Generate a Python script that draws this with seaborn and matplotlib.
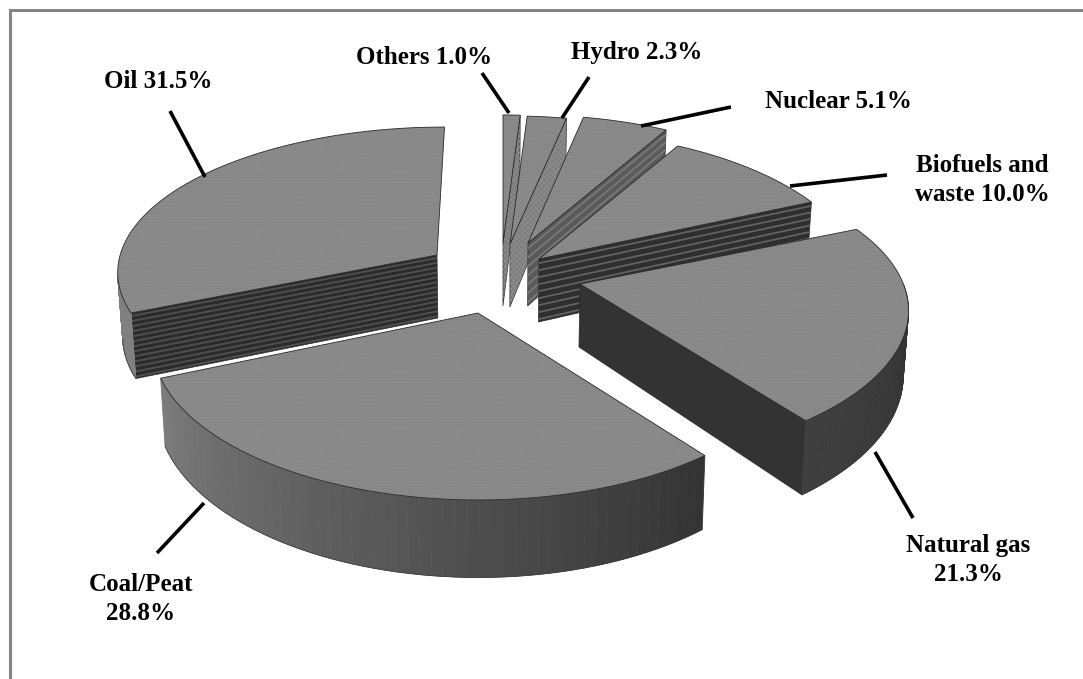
import numpy as np
import matplotlib
matplotlib.use("Agg")
import matplotlib.pyplot as plt
from matplotlib.patches import Polygon
import seaborn as sns

# Shares of primary energy supply, clockwise from twelve o'clock
fuels = ["Others", "Hydro", "Nuclear", "Biofuels and waste", "Natural gas", "Coal/Peat", "Oil"]
shares = [1.0, 2.3, 5.1, 10.0, 21.3, 28.8, 31.5]
label_breaks = ["Others {}%", "Hydro {}%", "Nuclear {}%", "Biofuels and\nwaste {}%",
                "Natural gas\n{}%", "Coal/Peat\n{}%", "Oil {}%"]

# Where each exploded wedge has its tip on the canvas, plus small per-wedge corrections
tips = [(503, 243), (510, 244), (528, 243), (539, 259), (580, 284), (478, 313), (437, 255)]
x_scale = [1.0, 1.0, 0.98, 0.985, 0.995, 0.985, 0.975]
y_scale = [1.0, 1.0, 1.0, 1.0, 0.96, 1.0, 0.924]
skew = [0.0, 0.0, 0.0, 0.0, 3.0, 0.0, 7.0]
persp = [0.187, 0.187, 0.187, 0.187, 0.187, 0.187, 0.0975]
label_xy = [(424, 57), (637, 53), (838, 101), (982, 180), (968, 560), (141, 599), (158, 82)]
leaders = [((482, 73), (509, 113)), ((589, 77), (562, 118)), ((731, 107), (641, 126)),
           ((887, 175), (790, 186)), ((913, 518), (875, 452)), ((157, 553), (204, 503)),
           ((170, 111), (205, 177))]

# Face styling: stripes on the cut side and greys running along the rim
top_grey = "#8b8b8b"
side_base = ["#7c7c7c", "#7f7f7f", "#5a5a5a", "#2e2e2e", "#333333", "#3a3a3a", "#2b2b2b"]
side_stripe = [None, None, "#787878", "#626262", None, None, "#505050"]
side_hatch = ["xxxxxx", "xxxxxx", None, None, None, None, None]
rim_near = ["#7a7a7a", "#7a7a7a", "#6a6a6a", "#5a5a5a", "#3f3f3f", "#7c7c7c", "#808080"]
rim_far = ["#7a7a7a", "#7a7a7a", "#6a6a6a", "#5a5a5a", "#2f2f2f", "#343434", "#808080"]
stripe_count = [0, 0, 7, 9, 0, 0, 13]

WIDTH = 325.0      # horizontal radius on the canvas
DEPTH = 152.0      # vertical radius on the canvas
HEIGHT = 63.0      # thickness of the disc
AXIS_X = 500.0     # verticals lean slightly towards this column
LEAN = 0.987

sns.set_theme(style="white")
plt.rcParams["font.family"] = ["Liberation Serif", "DejaVu Serif"]
plt.rcParams["hatch.linewidth"] = 0.35

fig, ax = plt.subplots(figsize=(10.83, 6.79), dpi=100)
ax.set_position([0, 0, 1, 1])
ax.set_xlim(0, 1083)
ax.set_ylim(679, 0)
ax.axis("off")

# Greys for the hatching come from a seaborn ramp
grain = sns.color_palette("Greys", 9)


def project(k, theta, radius=1.0, lower=False):
    """Map a polar point on wedge k (clockwise from north) to the canvas."""
    x = radius * np.sin(theta)
    y = radius * np.cos(theta)
    den = 1 + persp[k] * y
    px = tips[k][0] + (WIDTH * x_scale[k] * x + skew[k] * y * 1.18) / den
    py = tips[k][1] - DEPTH * y_scale[k] * y / den
    if lower:
        py += HEIGHT / den
        px = AXIS_X + (px - AXIS_X) * LEAN
    return px, py


def outline(k, a, b, lower=False, n=60):
    th = np.linspace(a, b, n)
    return np.array([project(k, t, 1.0, lower) for t in th])


def cut_face(k, theta, order):
    p0, p1 = project(k, theta), project(k, 0, 0)
    q0, q1 = project(k, theta, 1.0, True), project(k, 0, 0, True)
    quad = [p1, p0, q0, q1]
    ax.add_patch(Polygon(quad, closed=True, fc=side_base[k], ec="#2a2a2a", lw=0.5, zorder=order))
    if side_hatch[k]:
        ax.add_patch(Polygon(quad, closed=True, fc="none", ec=grain[4], hatch=side_hatch[k],
                             lw=0, zorder=order + 0.005))
    count = stripe_count[k]
    for f in (np.arange(count) + 0.6) / max(count, 1):
        a = np.array(p0) + f * (np.array(q0) - np.array(p0))
        b = np.array(p1) + f * (np.array(q1) - np.array(p1))
        ax.plot([a[0], b[0]], [a[1], b[1]], color=side_stripe[k], lw=1.3, zorder=order + 0.01,
                solid_capstyle="butt")


edges = np.radians(np.cumsum([0.0] + shares) * 3.6)

for i, fuel in enumerate(fuels):
    a, b = edges[i], edges[i + 1]
    z = 2 + i * 1.0

    # Only the cut side turned towards the viewer gets painted
    if np.sin(b) > 0:
        cut_face(i, b, z)
    if np.sin(a) < 0:
        cut_face(i, a, z)

    # Rim on the near half of the disc, in short quads so its grey drifts along the arc
    lo, hi = max(a, np.pi / 2), min(b, np.radians(262))
    if hi > lo:
        upper_rim = outline(i, lo, hi)
        lower_rim = outline(i, lo, hi, True)
        near = np.array(matplotlib.colors.to_rgb(rim_near[i]))
        far = np.array(matplotlib.colors.to_rgb(rim_far[i]))
        for j in range(len(upper_rim) - 1):
            mix = 1 - j / (len(upper_rim) - 2)
            tone = near * (1 - mix) + far * mix
            ax.add_patch(Polygon([upper_rim[j], upper_rim[j + 1], lower_rim[j + 1], lower_rim[j]],
                                 closed=True, fc=tone, ec=tone, lw=0.6, zorder=z + 0.1))
        ax.plot(lower_rim[:, 0], lower_rim[:, 1], color="#3a3a3a", lw=0.5, zorder=z + 0.11)

    # Top surface with a fine dither and a thin dark outline
    top = np.vstack([[project(i, 0, 0)], outline(i, a, b)])
    ax.add_patch(Polygon(top, closed=True, fc=top_grey, ec=grain[5], hatch="......", lw=0, zorder=z + 0.2))
    ax.add_patch(Polygon(top, closed=True, fc="none", ec="#2a2a2a", lw=0.6, zorder=z + 0.3))

# Leader lines and labels
for (start, end), template, value, xy in zip(leaders, label_breaks, shares, label_xy):
    ax.plot([start[0], end[0]], [start[1], end[1]], color="black", lw=2.6,
            solid_capstyle="butt", zorder=20)
    ax.text(xy[0], xy[1], template.format(value), ha="center", va="center", fontsize=18,
            fontweight="bold", color="black", linespacing=1.3, zorder=21)

# Grey rule along the top and down the left side
ax.plot([9.5, 9.5, 1083], [679, 10, 10], color="#858585", lw=2.2, zorder=30, solid_joinstyle="miter")

fig.savefig("out.png", dpi=100, facecolor="white")
